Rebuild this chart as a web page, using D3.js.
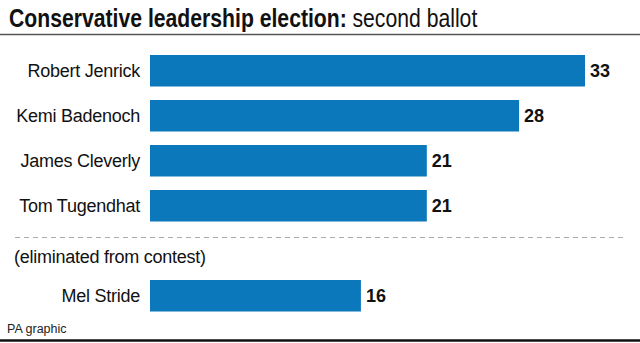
<!DOCTYPE html>
<html>
<head>
<meta charset="utf-8">
<script src="https://cdn.jsdelivr.net/npm/d3@7"></script>
<style>
  body { margin: 0; background: #fff; }
  text { font-family: "Liberation Sans", Arial, sans-serif; }
</style>
</head>
<body>
<script>
// second ballot votes
const candidates = ["Robert Jenrick", "Kemi Badenoch", "James Cleverly", "Tom Tugendhat"];
const votes = [33, 28, 21, 21];
const eliminated = ["Mel Stride"];
const eliminatedVotes = [16];

const w = 640;
const h = 343;
const barColor = "#0b78bb";

const svg = d3.select("body")
    .append("svg")
        .attr("width", w)
        .attr("height", h)

// title, squeezed horizontally to get a condensed look
const titleG = svg.append("g")
    .attr("transform", "translate(9,27) scale(0.815,1)")

const titleBold = titleG.append("text")
    .attr("x", 0)
    .style("font-size", "26px")
    .style("font-weight", "bold")
    .attr("fill", "#111")
    .text("Conservative leadership election:")

titleG.append("text")
    .attr("x", titleBold.node().getComputedTextLength() + 7)
    .style("font-size", "26px")
    .attr("fill", "#111")
    .text("second ballot")

svg.append("line")
    .attr("x1", 0).attr("x2", w)
    .attr("y1", 34.5).attr("y2", 34.5)
    .attr("stroke", "#555")
    .attr("stroke-width", 1.5)

const x = d3.scaleLinear()
    .domain([0, 33])
    .range([150, 585])

const y = d3.scaleBand()
    .domain(candidates)
    .range([41.5, 235])
    .padding(0.3)

const yOut = d3.scaleBand()
    .domain(eliminated)
    .range([266.5, 325])
    .padding(0.3)

function drawRows(names, values, scale) {
    const g = svg.append("g")
    const rows = g.selectAll("g")
        .data(names.map((n, i) => ({ name: n, value: values[i] })))
        .enter()
        .append("g")

    rows.append("rect")
        .attr("x", x(0))
        .attr("y", d => scale(d.name))
        .attr("width", d => x(d.value) - x(0))
        .attr("height", scale.bandwidth())
        .attr("fill", barColor)

    rows.append("text")
        .attr("x", 140)
        .attr("y", d => scale(d.name) + scale.bandwidth() / 2)
        .attr("dy", "0.36em")
        .attr("text-anchor", "end")
        .style("font-size", "18px")
        .style("letter-spacing", "-0.25px")
        .attr("fill", "#111")
        .text(d => d.name)

    rows.append("text")
        .attr("x", d => x(d.value) + 5)
        .attr("y", d => scale(d.name) + scale.bandwidth() / 2)
        .attr("dy", "0.36em")
        .style("font-size", "18px")
        .style("font-weight", "bold")
        .attr("fill", "#111")
        .text(d => d.value)
}

drawRows(candidates, votes, y)
drawRows(eliminated, eliminatedVotes, yOut)

// divider before the eliminated candidate
svg.append("line")
    .attr("x1", 15).attr("x2", 625)
    .attr("y1", 237.5).attr("y2", 237.5)
    .attr("stroke", "#aaa")
    .attr("stroke-width", 1)
    .attr("stroke-dasharray", "5,4")

svg.append("text")
    .attr("x", 14)
    .attr("y", 263)
    .style("font-size", "18px")
    .style("letter-spacing", "-0.25px")
    .attr("fill", "#111")
    .text("(eliminated from contest)")

svg.append("text")
    .attr("x", 7)
    .attr("y", 333)
    .style("font-size", "12.5px")
    .attr("fill", "#222")
    .text("PA graphic")

svg.append("line")
    .attr("x1", 0).attr("x2", w)
    .attr("y1", 340.5).attr("y2", 340.5)
    .attr("stroke", "#111")
    .attr("stroke-width", 2.5)
</script>
</body>
</html>
